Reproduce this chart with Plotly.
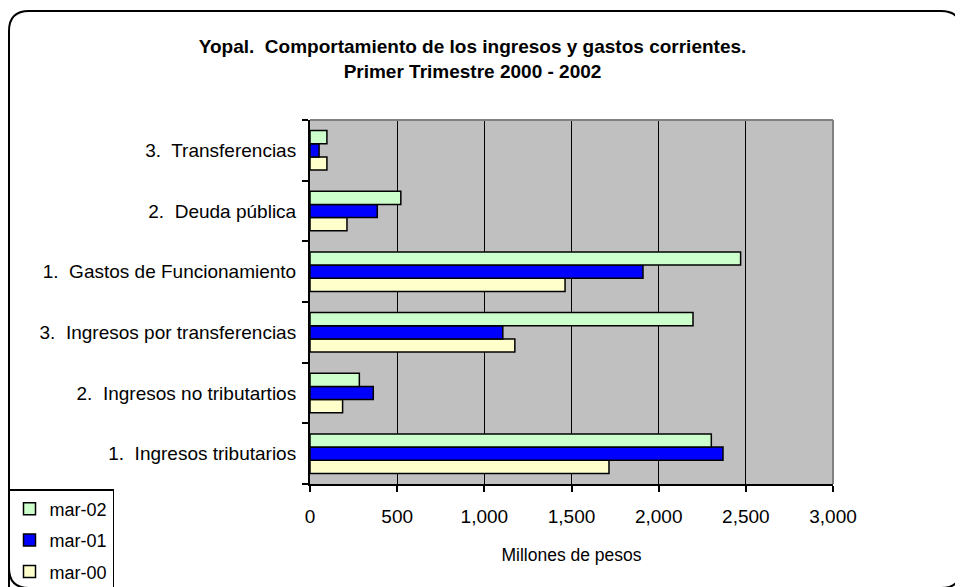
import plotly.graph_objects as go

categories = [
    "1.  Ingresos tributarios",
    "2.  Ingresos no tributartios",
    "3.  Ingresos por transferencias",
    "1.  Gastos de Funcionamiento",
    "2.  Deuda pública",
    "3.  Transferencias",
]
series_names = ["mar-00", "mar-01", "mar-02"]
legend_ranks = [3, 2, 1]
mar_00 = [1715, 187, 1175, 1463, 212, 97]
mar_01 = [2369, 363, 1106, 1910, 386, 52]
mar_02 = [2302, 283, 2197, 2470, 521, 97]
x_ticks = [0, 500, 1000, 1500, 2000, 2500, 3000]
x_tick_labels = ["0", "500", "1,000", "1,500", "2,000", "2,500", "3,000"]

colors = {"mar-00": "#FFFFCC", "mar-01": "#0000FF", "mar-02": "#CCFFCC"}
values = {"mar-00": mar_00, "mar-01": mar_01, "mar-02": mar_02}

# page body has an 8px margin: figure coords = screen coords - 8
OFF = 8
W, H = 963, 587
L, T = 310 - OFF, 120 - OFF
R = W - (833 - OFF)
B = H - (484 - OFF)
pw, ph = W - L - R, H - T - B

def px(xs):
    return (xs - OFF - L) / pw

def py(ys):
    return (H - B - (ys - OFF)) / ph

FONT = "Liberation Sans, Arial, sans-serif"

fig = go.Figure()
for name, rank in zip(series_names, legend_ranks):
    fig.add_trace(go.Bar(
        y=categories, x=values[name], name=name, orientation="h",
        marker=dict(color=colors[name], line=dict(color="black", width=1.5)),
        legendgroup=name, legendrank=rank,
    ))

# outer rounded frame (screen coords)
x0, x1, y0, y1, r = 9, 961, 11, 588, 20
path = (
    f"M {px(x0)},{py(y0 + r)} "
    f"Q {px(x0)},{py(y0)} {px(x0 + r)},{py(y0)} "
    f"L {px(x1 - r)},{py(y0)} "
    f"Q {px(x1)},{py(y0)} {px(x1)},{py(y0 + r)} "
    f"L {px(x1)},{py(y1 - r)} "
    f"Q {px(x1)},{py(y1)} {px(x1 - r)},{py(y1)} "
    f"L {px(x0 + r)},{py(y1)} "
    f"Q {px(x0)},{py(y1)} {px(x0)},{py(y1 - r)} Z"
)
shapes = [
    dict(type="path", xref="paper", yref="paper", path=path,
         line=dict(color="black", width=2), layer="below"),
    dict(type="line", xref="paper", yref="paper", x0=0, x1=1, y0=1, y1=1,
         line=dict(color="#808080", width=2), layer="above"),
    dict(type="line", xref="paper", yref="paper", x0=1, x1=1, y0=0, y1=1,
         line=dict(color="#808080", width=2), layer="above"),
]

fig.update_layout(
    width=W, height=H, autosize=False,
    margin=dict(l=L, r=R, t=T, b=B),
    paper_bgcolor="white", plot_bgcolor="#C0C0C0",
    font=dict(family=FONT, size=19, color="black"),
    barmode="group", bargap=0.35, bargroupgap=0,
    title=dict(
        text="<b>Yopal.  Comportamiento de los ingresos y gastos corrientes.</b><br><b>Primer Trimestre 2000 - 2002</b>",
        x=(472.5 - OFF) / W, xanchor="center", y=1 - 45 / H, yanchor="top",
        font=dict(family=FONT, size=19, color="black"),
    ),
    xaxis=dict(
        range=[0, 3000], tickvals=x_ticks, ticktext=x_tick_labels,
        showgrid=True, gridcolor="black", gridwidth=1,
        showline=True, linecolor="black", linewidth=2,
        ticks="outside", ticklen=6, tickcolor="black", tickwidth=2,
        ticklabelstandoff=8, zeroline=False,
        title=dict(text="Millones de pesos", font=dict(size=17.5), standoff=23),
        automargin=False, fixedrange=True,
    ),
    yaxis=dict(
        categoryorder="array", categoryarray=categories,
        showgrid=False, showline=True, linecolor="black", linewidth=2,
        ticks="outside", ticklen=6, tickcolor="black", tickwidth=2,
        tickson="boundaries", ticklabelstandoff=8,
        automargin=False, fixedrange=True,
    ),
    legend=dict(
        xref="container", yref="container",
        x=0, y=1 - (489 - OFF) / H, xanchor="left", yanchor="top",
        bordercolor="black", borderwidth=1.5, bgcolor="rgba(0,0,0,0)",
        traceorder="grouped", tracegroupgap=5,
        font=dict(size=18),
    ),
    shapes=shapes,
    showlegend=True,
)

fig.write_html("out.html")
